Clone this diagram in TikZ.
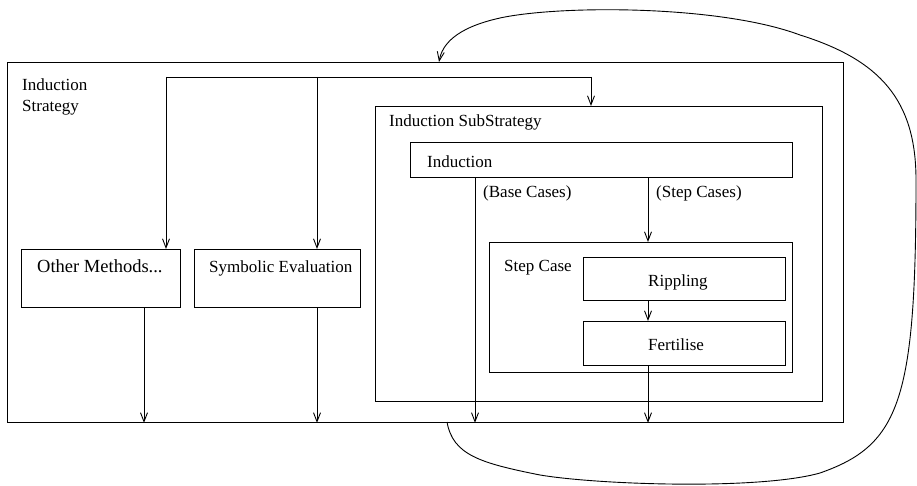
\documentclass[tikz,border=0pt]{standalone}
\usepackage{fontspec}
\setmainfont{Liberation Serif}
\usetikzlibrary{arrows.meta}
\begin{document}
\begin{tikzpicture}[x=1pt,y=-1pt,
  box/.style={draw, line width=0.9pt, inner sep=0pt, anchor=north west},
  lbl/.style={anchor=base west, inner sep=0pt, font=\fontsize{17}{20}\selectfont},
  biglbl/.style={anchor=base west, inner sep=0pt, font=\fontsize{18.5}{22}\selectfont},
  arr/.style={line width=0.9pt, -{Straight Barb[length=9pt,width=7pt]}},
  ln/.style={line width=0.9pt}]
\useasboundingbox (0,0) rectangle (917,486);
% boxes
\node[box, minimum width=836pt, minimum height=360pt] (strategy) at (7,62) {};
\node[box, minimum width=447pt, minimum height=295pt] (sub) at (375,106) {};
\node[box, minimum width=382pt, minimum height=35pt] (ind) at (410,142) {};
\node[box, minimum width=303pt, minimum height=130pt] (stepcase) at (489,242) {};
\node[box, minimum width=202pt, minimum height=43pt] (ripp) at (583,257) {};
\node[box, minimum width=202pt, minimum height=44pt] (fert) at (583,321) {};
\node[box, minimum width=159pt, minimum height=58pt] (other) at (21,249) {};
\node[box, minimum width=166pt, minimum height=58pt] (symb) at (194,249) {};
% labels
\node[lbl] (t1) at (22,91) {Induction};
\node[lbl] (t2) at (22,112) {Strategy};
\node[lbl] (t3) at (389,127) {Induction SubStrategy};
\node[lbl] (t4) at (427,168) {Induction};
\node[lbl] (t5) at (483,198) {(Base Cases)};
\node[lbl] (t6) at (656,198) {(Step Cases)};
\node[lbl] (t7) at (504,271) {Step Case};
\node[lbl] (t8) at (648,286) {Rippling};
\node[lbl] (t9) at (648,350) {Fertilise};
\node[biglbl] (t10) at (37,272) {Other Methods...};
\node[lbl] (t11) at (209,272) {Symbolic Evaluation};
% top distribution
\coordinate (tl) at (166,77);
\coordinate (tm) at (317,77);
\coordinate (tr) at (591,77);
\draw[ln] (tl) -- (tr);
\draw[arr] (tl) -- (tl |- other.north);
\draw[arr] (tm) -- (tm |- symb.north);
\draw[arr] (tr) -- (tr |- sub.north);
% downward arrows
\coordinate (ob) at (144,0);
\coordinate (sb) at (317,0);
\coordinate (bc) at (475,0);
\coordinate (sc) at (648,0);
\draw[arr] (ob |- other.south) -- (ob |- strategy.south);
\draw[arr] (sb |- symb.south) -- (sb |- strategy.south);
\draw[arr] (bc |- ind.south) -- (bc |- strategy.south);
\draw[arr] (sc |- ind.south) -- (sc |- stepcase.north);
\draw[arr] (sc |- ripp.south) -- (sc |- fert.north);
\draw[arr] (sc |- fert.south) -- (sc |- strategy.south);
% loop back
\coordinate (cs) at (447,422);
\coordinate (ce) at (439,62);
\draw[arr] (cs) .. controls (453,455) and (480,463) .. (540,475)
  .. controls (600,485) and (760,490) .. (820,473)
  .. controls (900,445) and (916,400) .. (916,180)
  .. controls (916,100) and (880,60) .. (800,35)
  .. controls (720,5) and (560,5) .. (500,18)
  .. controls (455,28) and (442,45) .. (ce);
\end{tikzpicture}
\end{document}
